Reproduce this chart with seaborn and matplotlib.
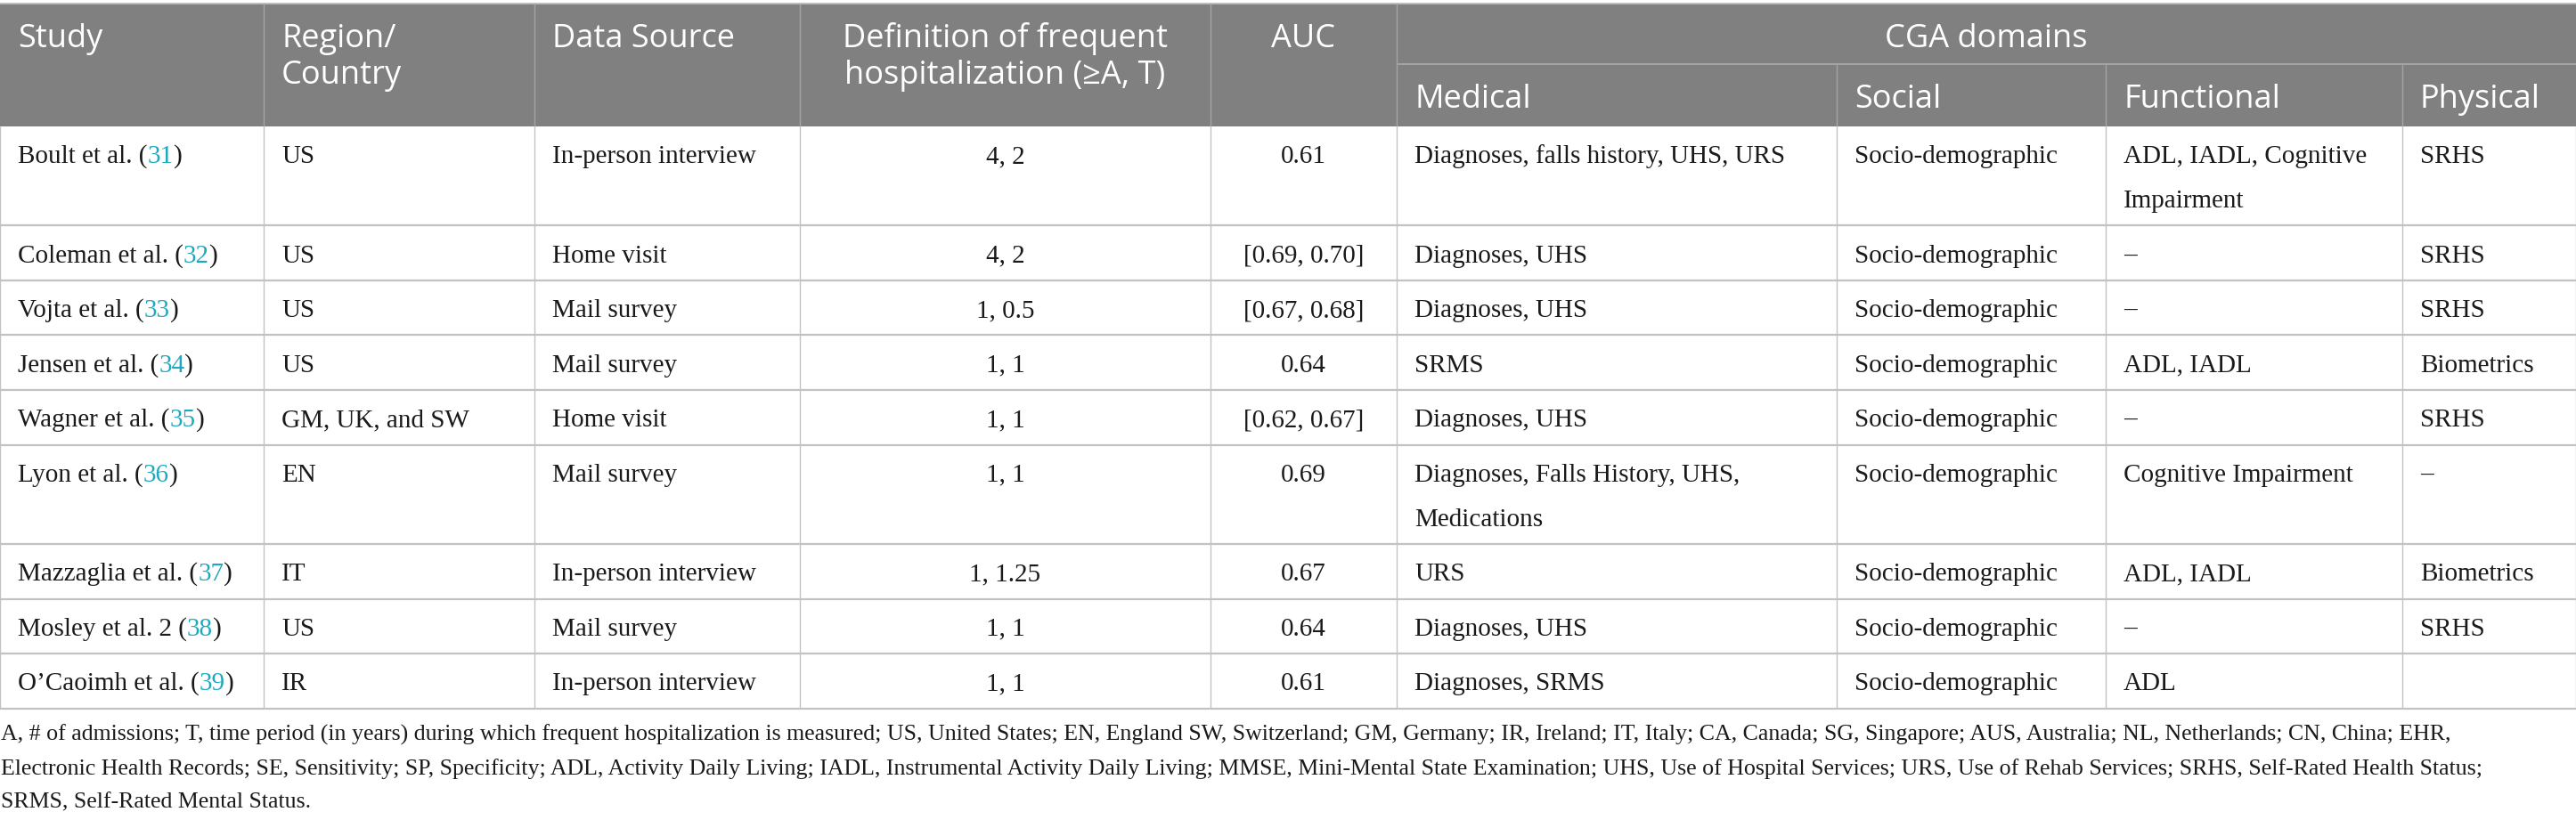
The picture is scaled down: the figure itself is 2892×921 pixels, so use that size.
import matplotlib
matplotlib.use("Agg")
import matplotlib.pyplot as plt
from matplotlib.patches import Rectangle
import seaborn as sns

# table content
studies = ["Boult et al.", "Coleman et al.", "Vojta et al.", "Jensen et al.",
           "Wagner et al.", "Lyon et al.", "Mazzaglia et al.", "Mosley et al. 2",
           "O\u2019Caoimh et al."]
refs = ["31", "32", "33", "34", "35", "36", "37", "38", "39"]
regions = ["US", "US", "US", "US", "GM, UK, and SW", "EN", "IT", "US", "IR"]
sources = ["In-person interview", "Home visit", "Mail survey", "Mail survey",
           "Home visit", "Mail survey", "In-person interview", "Mail survey",
           "In-person interview"]
definitions = ["4, 2", "4, 2", "1, 0.5", "1, 1", "1, 1", "1, 1", "1, 1.25", "1, 1", "1, 1"]
aucs = ["0.61", "[0.69, 0.70]", "[0.67, 0.68]", "0.64", "[0.62, 0.67]",
        "0.69", "0.67", "0.64", "0.61"]
medical = ["Diagnoses, falls history, UHS, URS", "Diagnoses, UHS", "Diagnoses, UHS",
           "SRMS", "Diagnoses, UHS", "Diagnoses, Falls History, UHS,\nMedications",
           "URS", "Diagnoses, UHS", "Diagnoses, SRMS"]
social = ["Socio-demographic"] * 9
functional = ["ADL, IADL, Cognitive\nImpairment", "\u2013", "\u2013", "ADL, IADL",
              "\u2013", "Cognitive Impairment", "ADL, IADL", "\u2013", "ADL"]
physical = ["SRHS", "SRHS", "SRHS", "Biometrics", "SRHS", "\u2013", "Biometrics",
            "SRHS", ""]

top_headers = ["Study", "Region/\nCountry", "Data Source",
               "Definition of frequent\nhospitalization (\u2265A, T)", "AUC"]
group_header = "CGA domains"
sub_headers = ["Medical", "Social", "Functional", "Physical"]

footnote = [
    "A, # of admissions; T, time period (in years) during which frequent hospitalization is measured; "
    "US, United States; EN, England SW, Switzerland; GM, Germany; IR, Ireland; IT, Italy; CA, Canada; "
    "SG, Singapore; AUS, Australia; NL, Netherlands; CN, China; EHR,",
    "Electronic Health Records; SE, Sensitivity; SP, Specificity; ADL, Activity Daily Living; "
    "IADL, Instrumental Activity Daily Living; MMSE, Mini-Mental State Examination; "
    "UHS, Use of Hospital Services; URS, Use of Rehab Services; SRHS, Self-Rated Health Status;",
    "SRMS, Self-Rated Mental Status.",
]

# layout (pixels)
W, H = 2892, 921
col_edges = [0, 296, 600, 898, 1359, 1568, 2062, 2364, 2697, 2892]
centered = [False, False, False, True, True, False, False, False, False]
head_top, head_mid, head_bot = 4, 72, 142
pad = 20
line_gap = 50
single_row = 61.5

HEAD_BG = "#808080"
HEAD_LINE = "#a4a4a4"
GRID = "#c2c2c2"
TEAL = "#1fa9bf"
INK = "#1a1a1a"

sns.set_theme(style="white")
plt.rcParams["font.family"] = ["Liberation Serif", "DejaVu Serif"]
head_font = dict(family=["Open Sans", "DejaVu Sans"], size=26, color="white")
body_font = dict(family=["Liberation Serif", "DejaVu Serif"], size=21, color=INK)

fig = plt.figure(figsize=(W / 100, H / 100), dpi=100)
ax = fig.add_axes([0, 0, 1, 1])
ax.set_xlim(0, W)
ax.set_ylim(H, 0)
ax.axis("off")

# header block
ax.add_patch(Rectangle((0, head_top), W, head_bot - head_top, color=HEAD_BG, lw=0))
ax.hlines(head_top, 0, W, color="#bdbdbd", lw=1.4)
ax.hlines(head_mid, col_edges[5], W, color=HEAD_LINE, lw=1.4)
ax.vlines(col_edges[1:5] + [col_edges[5]], head_top, head_bot, color=HEAD_LINE, lw=1.0)
ax.vlines(col_edges[6:9], head_mid, head_bot, color=HEAD_LINE, lw=1.0)


def put_lines(x, y, text, ha, font, gap):
    for i, line in enumerate(text.split("\n")):
        ax.text(x, y + i * gap, line, ha=ha, va="baseline", **font)


for j, label in enumerate(top_headers):
    left, right = col_edges[j], col_edges[j + 1]
    if centered[j]:
        put_lines((left + right) / 2, 53, label, "center", head_font, 41)
    else:
        put_lines(left + pad, 53, label, "left", head_font, 41)
ax.text((col_edges[5] + W) / 2, 53, group_header, ha="center", va="baseline", **head_font)
for k, label in enumerate(sub_headers):
    ax.text(col_edges[5 + k] + pad, 121, label, ha="left", va="baseline", **head_font)

# body rows
columns = [regions, sources, definitions, aucs, medical, social, functional, physical]
top = head_bot
row_tops = []
for i in range(len(studies)):
    cells = [c[i] for c in columns]
    n_lines = max(c.count("\n") + 1 for c in cells)
    row_h = single_row + line_gap * (n_lines - 1)
    row_tops.append(top)
    base = top + 41

    t1 = ax.text(col_edges[0] + pad, base, studies[i] + " (", ha="left", va="baseline", **body_font)
    t2 = ax.annotate(refs[i], xy=(1, 0), xycoords=t1, ha="left", va="bottom",
                     family=body_font["family"], size=body_font["size"], color=TEAL)
    ax.annotate(")", xy=(1, 0), xycoords=t2, ha="left", va="bottom", **body_font)

    for j, cell in enumerate(cells, start=1):
        left, right = col_edges[j], col_edges[j + 1]
        if centered[j]:
            put_lines((left + right) / 2, base, cell, "center", body_font, line_gap)
        else:
            put_lines(left + pad, base, cell, "left", body_font, line_gap)
    top += row_h
table_bottom = top

ax.hlines(row_tops[1:] + [table_bottom], 0, W, color=GRID, lw=1.6)
ax.vlines(col_edges[:-1], head_bot, table_bottom, color=GRID, lw=1.0)
ax.vlines([W - 0.5], head_bot, table_bottom, color=GRID, lw=1.0)

# footnote
for k, line in enumerate(footnote):
    ax.text(1, 832 + k * 37.5, line, ha="left", va="baseline",
            family=body_font["family"], size=18.6, color=INK)

fig.savefig("out.png", dpi=100)
